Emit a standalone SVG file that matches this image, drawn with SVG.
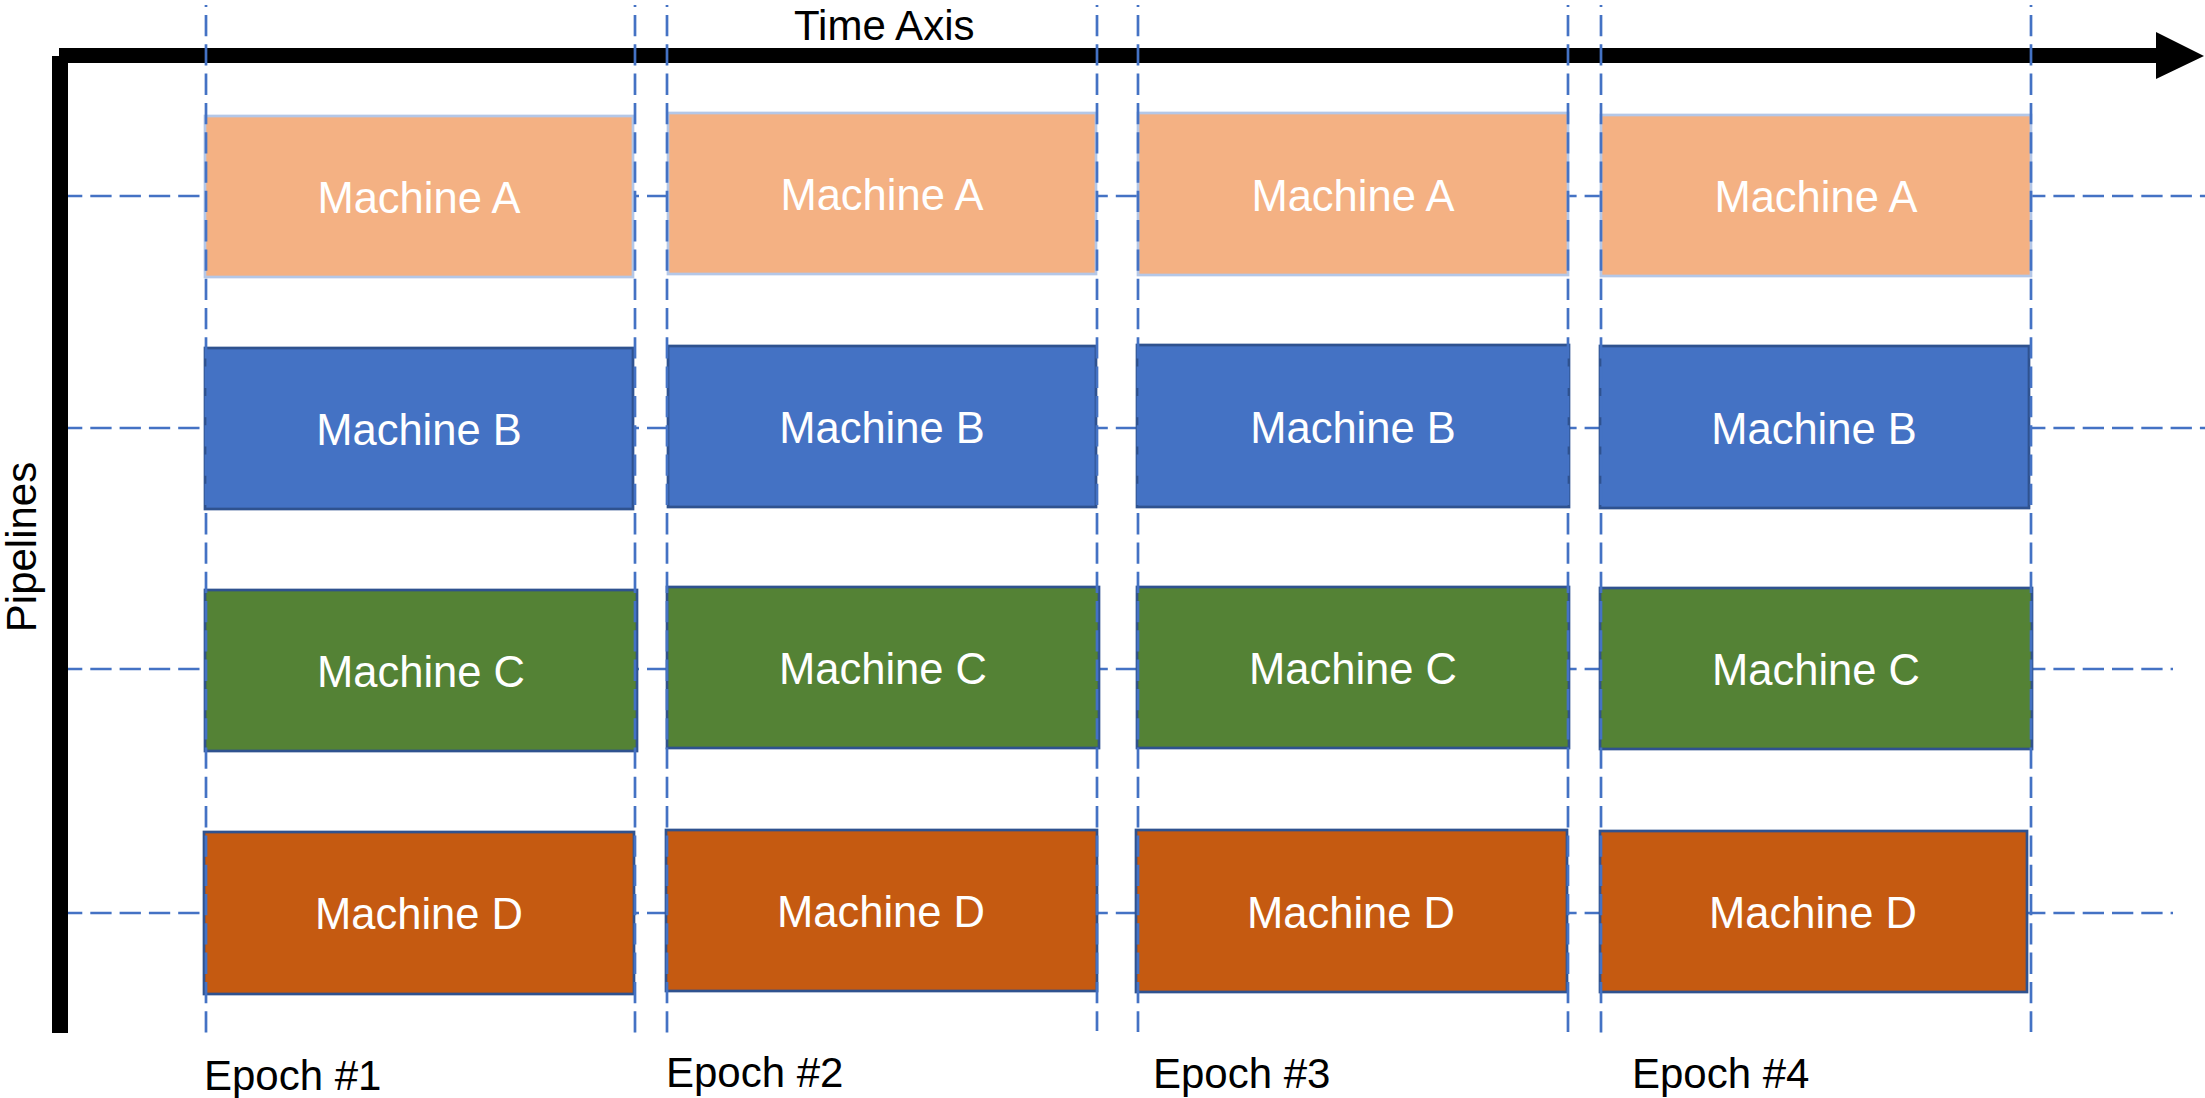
<svg xmlns="http://www.w3.org/2000/svg" width="2205" height="1098" viewBox="0 0 2205 1098">
  <style>
    .grid { stroke: #4472C4; stroke-width: 2.7; stroke-dasharray: 21.3 8; fill: none; }
    .vgrid { stroke-dashoffset: 19.3; }
    .label { font-family: "Liberation Sans", Arial, sans-serif; font-size: 42px; }
    .mtext { fill: #FFFFFF; text-anchor: middle; font-size: 43.5px; }
    .ktext { fill: #000000; }
    .ma { fill: #F4B183; stroke: #B4C7E7; stroke-width: 2.7; }
    .mb { fill: #4472C4; stroke: #2F528F; stroke-width: 2.7; }
    .mc { fill: #548235; stroke: #2F528F; stroke-width: 2.7; }
    .md { fill: #C55A11; stroke: #2F528F; stroke-width: 2.7; }
  </style>
  <rect width="2205" height="1098" fill="#FFFFFF"/>

  <!-- pipeline guide lines (behind the machine boxes) -->
  <g id="pipeline-lines">
    <line class="grid" x1="61" y1="196" x2="2205" y2="196"/>
    <line class="grid" x1="61" y1="428" x2="2205" y2="428"/>
    <line class="grid" x1="61" y1="669" x2="2173" y2="669"/>
    <line class="grid" x1="61" y1="913" x2="2173" y2="913"/>
  </g>

  <!-- Epoch 1 -->
  <g id="e1-a"><rect class="ma" x="205" y="116" width="428" height="161"/><text class="label mtext" x="419" y="213">Machine A</text></g>
  <g id="e1-b"><rect class="mb" x="205" y="348" width="428" height="161"/><text class="label mtext" x="419" y="445">Machine B</text></g>
  <g id="e1-c"><rect class="mc" x="205" y="590" width="432" height="161"/><text class="label mtext" x="421" y="687">Machine C</text></g>
  <g id="e1-d"><rect class="md" x="204" y="832" width="430" height="162"/><text class="label mtext" x="419" y="929">Machine D</text></g>

  <!-- Epoch 2 -->
  <g id="e2-a"><rect class="ma" x="668" y="113" width="428" height="161"/><text class="label mtext" x="882" y="210">Machine A</text></g>
  <g id="e2-b"><rect class="mb" x="668" y="346" width="428" height="161"/><text class="label mtext" x="882" y="443">Machine B</text></g>
  <g id="e2-c"><rect class="mc" x="667" y="587" width="432" height="161"/><text class="label mtext" x="883" y="684">Machine C</text></g>
  <g id="e2-d"><rect class="md" x="666" y="830" width="431" height="161"/><text class="label mtext" x="881" y="927">Machine D</text></g>

  <!-- Epoch 3 -->
  <g id="e3-a"><rect class="ma" x="1138" y="113" width="430" height="162"/><text class="label mtext" x="1353" y="211">Machine A</text></g>
  <g id="e3-b"><rect class="mb" x="1137" y="345" width="432" height="162"/><text class="label mtext" x="1353" y="443">Machine B</text></g>
  <g id="e3-c"><rect class="mc" x="1137" y="587" width="432" height="161"/><text class="label mtext" x="1353" y="684">Machine C</text></g>
  <g id="e3-d"><rect class="md" x="1136" y="830" width="431" height="162"/><text class="label mtext" x="1351" y="928">Machine D</text></g>

  <!-- Epoch 4 -->
  <g id="e4-a"><rect class="ma" x="1601" y="115" width="430" height="161"/><text class="label mtext" x="1816" y="212">Machine A</text></g>
  <g id="e4-b"><rect class="mb" x="1600" y="346" width="429" height="162"/><text class="label mtext" x="1814" y="444">Machine B</text></g>
  <g id="e4-c"><rect class="mc" x="1600" y="588" width="432" height="161"/><text class="label mtext" x="1816" y="685">Machine C</text></g>
  <g id="e4-d"><rect class="md" x="1600" y="831" width="427" height="161"/><text class="label mtext" x="1813" y="928">Machine D</text></g>

  <!-- axes -->
  <g id="axes" fill="#000000">
    <rect x="52" y="56" width="16" height="977"/>
    <path d="M59 48 H2156 V32 L2204 56 L2156 79 V63 H59 Z"/>
  </g>

  <!-- epoch boundary lines (drawn over boxes and axis) -->
  <g id="epoch-lines">
    <line class="grid vgrid" x1="206" y1="5" x2="206" y2="1033"/>
    <line class="grid vgrid" x1="635" y1="5" x2="635" y2="1033"/>
    <line class="grid vgrid" x1="667" y1="5" x2="667" y2="1033"/>
    <line class="grid vgrid" x1="1097" y1="5" x2="1097" y2="1031"/>
    <line class="grid vgrid" x1="1138" y1="5" x2="1138" y2="1032"/>
    <line class="grid vgrid" x1="1568" y1="5" x2="1568" y2="1032"/>
    <line class="grid vgrid" x1="1601" y1="5" x2="1601" y2="1033"/>
    <line class="grid vgrid" x1="2031" y1="5" x2="2031" y2="1032"/>
  </g>

  <!-- axis titles and epoch labels -->
  <g id="titles">
    <text class="label ktext" x="794" y="40">Time Axis</text>
    <text class="label ktext" text-anchor="middle" transform="translate(36,547) rotate(-90)">Pipelines</text>
    <text class="label ktext" x="204" y="1090">Epoch #1</text>
    <text class="label ktext" x="666" y="1087">Epoch #2</text>
    <text class="label ktext" x="1153" y="1088">Epoch #3</text>
    <text class="label ktext" x="1632" y="1088">Epoch #4</text>
  </g>
</svg>
